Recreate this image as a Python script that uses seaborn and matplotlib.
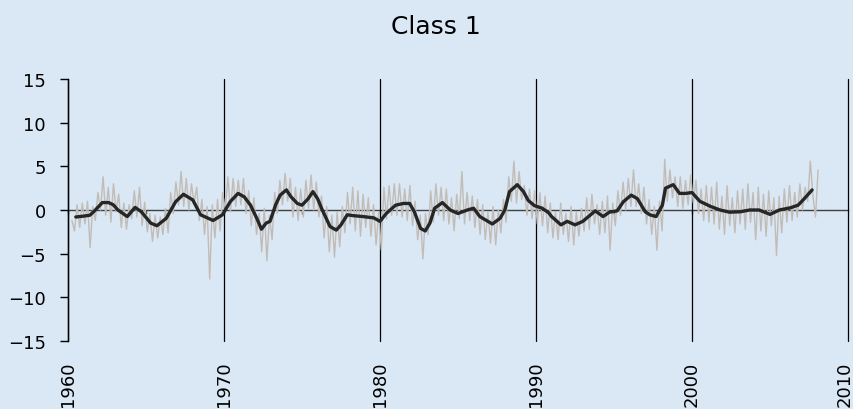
import numpy as np
import pandas as pd
import matplotlib
matplotlib.use('Agg')
import matplotlib.pyplot as plt
import matplotlib.transforms as mtransforms
import seaborn as sns

# smoothed series (black line)
smooth_years = [1960.5, 1961.0, 1961.4, 1961.7, 1962.2, 1962.6, 1962.9, 1963.2, 1963.8, 1964.3,
                1964.7, 1965.3, 1965.7, 1966.3, 1966.9, 1967.4, 1968.0, 1968.5, 1969.3, 1969.9,
                1970.4, 1970.9, 1971.3, 1971.7, 1972.1, 1972.4, 1972.7, 1972.95, 1973.3, 1973.6,
                1974.0, 1974.3, 1974.7, 1975.0, 1975.4, 1975.7, 1976.0, 1976.3, 1976.8, 1977.2,
                1977.5, 1977.9, 1978.3, 1978.9, 1979.6, 1980.0, 1980.4, 1981.0, 1981.5, 1981.9,
                1982.2, 1982.6, 1982.9, 1983.2, 1983.5, 1984.0, 1984.5, 1985.0, 1985.6, 1986.0,
                1986.4, 1987.2, 1987.7, 1988.0, 1988.3, 1988.8, 1989.2, 1989.5, 1989.9, 1990.4,
                1990.8, 1991.0, 1991.6, 1992.0, 1992.5, 1993.0, 1993.5, 1993.8, 1994.3, 1994.7,
                1995.2, 1995.6, 1996.1, 1996.5, 1997.0, 1997.3, 1997.7, 1998.1, 1998.3, 1998.8,
                1999.2, 1999.6, 2000.0, 2000.5, 2001.2, 2001.8, 2002.4, 2003.1, 2003.7, 2004.3,
                2005.0, 2005.6, 2006.3, 2006.8, 2007.2, 2007.7]
smooth_vals = [-0.8, -0.7, -0.6, -0.1, 0.85, 0.85, 0.6, 0.0, -0.75, 0.3,
               -0.2, -1.5, -1.8, -0.95, 0.95, 1.8, 1.15, -0.55, -1.2, -0.55,
               0.95, 1.9, 1.5, 0.55, -0.95, -2.2, -1.5, -1.3, 0.55, 1.7,
               2.3, 1.5, 0.75, 0.55, 1.3, 2.1, 1.3, 0.0, -1.9, -2.3,
               -1.7, -0.55, -0.65, -0.75, -0.9, -1.3, -0.4, 0.55, 0.75, 0.75,
               -0.2, -2.1, -2.4, -1.5, 0.2, 0.85, 0.0, -0.4, 0.0, 0.2,
               -0.75, -1.6, -0.95, 0.0, 2.1, 2.9, 2.1, 1.1, 0.5, 0.2,
               -0.3, -0.75, -1.7, -1.3, -1.7, -1.3, -0.55, -0.1, -0.75, -0.25,
               -0.1, 0.95, 1.7, 1.3, -0.2, -0.55, -0.75, 0.55, 2.5, 2.9,
               1.9, 1.9, 2.0, 1.0, 0.4, 0.0, -0.25, -0.2, 0.0, 0.0,
               -0.5, 0.0, 0.25, 0.55, 1.3, 2.3]

# raw series (grey line), six readings per year starting 1960.25
raw_start = 1960.25
raw_vals = [
    -1.2, -2.4, 0.6, -2.0, 0.8, -1.6,    # 1960
    1.0, -4.3, 0.4, -1.2, 2.0, 0.0,      # 1961
    3.8, -0.6, 2.6, -1.4, 3.0, -0.2,     # 1962
    1.8, -2.0, 0.8, -2.2, 0.6, -1.0,     # 1963
    2.2, -0.8, 2.6, -1.8, 0.9, -2.5,     # 1964
    -0.4, -3.6, -0.6, -3.2, -0.8, -2.8,  # 1965
    0.2, -2.6, 2.0, -0.4, 3.2, 0.6,      # 1966
    4.4, 0.4, 3.6, 0.0, 3.0, 0.8,        # 1967
    2.6, -1.2, 1.2, -2.8, 0.4, -7.9,     # 1968
    0.6, -3.2, 1.2, -2.4, 2.0, 0.0,      # 1969
    3.8, -0.2, 3.6, 0.4, 3.4, 0.6,       # 1970
    3.6, -0.4, 2.2, -1.8, 1.4, -2.8,     # 1971
    -0.4, -4.8, 0.2, -5.8, -0.6, -3.4,   # 1972
    2.0, -0.4, 3.4, 0.6, 4.2, 1.0,       # 1973
    3.6, -0.8, 2.6, -1.2, 2.4, -0.8,     # 1974
    3.4, 0.2, 4.0, 0.0, 3.2, -0.8,       # 1975
    1.6, -3.2, 0.4, -4.8, -0.6, -5.4,    # 1976
    -0.2, -4.2, 0.4, -2.6, 2.0, -1.6,    # 1977
    2.6, -2.4, 2.2, -3.0, 1.8, -2.0,     # 1978
    1.4, -3.0, 0.6, -4.0, -0.2, -4.6,    # 1979
    2.6, -1.0, 2.8, -0.6, 3.0, -0.6,     # 1980
    3.0, -0.8, 2.4, -1.2, 2.8, -1.8,     # 1981
    1.0, -3.4, -0.6, -5.6, -0.4, -2.8,   # 1982
    2.2, -1.4, 3.0, -0.6, 2.6, -1.2,     # 1983
    2.4, -1.6, 1.4, -2.4, 1.8, -1.0,     # 1984
    4.4, -1.6, 2.0, -1.2, 1.6, -2.0,     # 1985
    1.2, -2.8, 0.6, -3.4, -0.2, -3.8,    # 1986
    0.4, -4.0, 0.0, -2.6, 1.2, -1.4,     # 1987
    3.8, 1.0, 5.6, 0.8, 4.4, 1.2,        # 1988
    2.8, -0.6, 2.4, -1.0, 2.2, -1.6,     # 1989
    2.0, -1.8, 1.6, -2.6, 0.8, -3.2,     # 1990
    -0.2, -3.4, 0.8, -2.8, -0.4, -3.6,   # 1991
    0.4, -4.0, -0.2, -3.0, 0.2, -2.4,    # 1992
    1.4, -2.2, 1.8, -1.6, 0.6, -2.8,     # 1993
    1.0, -2.6, 1.6, -4.6, 0.8, -1.8,     # 1994
    2.2, -0.6, 3.2, 0.0, 3.6, 0.4,       # 1995
    4.6, 0.4, 3.0, -0.4, 2.6, -1.6,      # 1996
    1.2, -2.8, 0.4, -4.6, 1.0, -2.4,     # 1997
    5.8, 1.0, 4.6, 1.4, 3.8, 0.4,        # 1998
    3.8, 0.2, 3.4, 0.6, 4.0, 0.8,        # 1999
    3.4, -0.4, 2.4, -1.2, 2.8, -1.4,     # 2000
    2.6, -1.6, 3.2, -2.2, 1.6, -2.8,     # 2001
    2.8, -1.8, 1.4, -2.6, 2.2, -1.6,     # 2002
    2.4, -2.2, 3.0, -1.4, 2.0, -3.4,     # 2003
    2.6, -2.4, 1.8, -3.0, 2.2, -1.8,     # 2004
    1.4, -5.2, 1.6, -2.6, 2.4, -1.4,     # 2005
    2.8, -1.2, 2.0, -0.8, 3.0, 0.0,      # 2006
    2.6, 1.0, 5.6, 1.6, -0.8, 4.6,       # 2007
]
raw_years = raw_start + np.arange(len(raw_vals)) / 6

x_ticks = [1960, 1970, 1980, 1990, 2000, 2010]
y_ticks = [-15, -10, -5, 0, 5, 10, 15]
title = "Class 1"

bg = '#dae7f5'
grey = '#c2bcb6'
dark = '#262626'

raw_df = pd.DataFrame({'year': raw_years, 'value': raw_vals})
smooth_df = pd.DataFrame({'year': smooth_years, 'value': smooth_vals})

sns.set_theme(style='white')
plt.rcParams['font.family'] = ['DejaVu Sans']

fig = plt.figure(figsize=(8.54, 4.10), dpi=100, facecolor=bg)
ax = fig.add_axes([68 / 854, 68 / 410, 780 / 854, 262 / 410])
ax.set_facecolor(bg)

sns.lineplot(data=raw_df, x='year', y='value', color=grey, lw=1.0, errorbar=None, ax=ax)
sns.lineplot(data=smooth_df, x='year', y='value', color=dark, lw=2.4, errorbar=None, ax=ax)

ax.set_xlim(1960, 2010)
ax.set_ylim(-15, 15)
ax.set_xticks(x_ticks)
ax.set_yticks(y_ticks)
ax.set_xlabel('')
ax.set_ylabel('')
ax.tick_params(axis='y', direction='out', length=6, width=1, color='black',
               pad=10, labelsize=13, left=True, labelcolor='black')
ax.tick_params(axis='x', length=0, pad=14, labelsize=13, labelrotation=90, labelcolor='black')
ax.grid(axis='x', color='black', lw=0.9)
ax.grid(axis='y', visible=False)
for gl in ax.get_xgridlines():
    gl.set_clip_on(False)
for side in ['top', 'right', 'bottom']:
    ax.spines[side].set_visible(False)
ax.spines['left'].set_color('black')
ax.spines['left'].set_linewidth(1)

# keep the last year label inside the figure
last = ax.get_xticklabels()[-1]
last.set_transform(last.get_transform() + mtransforms.ScaledTranslation(-3 / 100, 0, fig.dpi_scale_trans))

# zero line with small half-decade ticks
sec = ax.secondary_xaxis(0.4999)
sec.set_xticks(list(range(1960, 2010, 5)), labels=[])
sec.tick_params(direction='out', length=3, width=1, color='#404040')
for sp in sec.spines.values():
    sp.set_color('#404040')
    sp.set_linewidth(1)

fig.text(436 / 854, 1 - 27 / 410, title, ha='center', va='center', fontsize=18, color='black')

fig.savefig('out.png', dpi=100, facecolor=bg)
